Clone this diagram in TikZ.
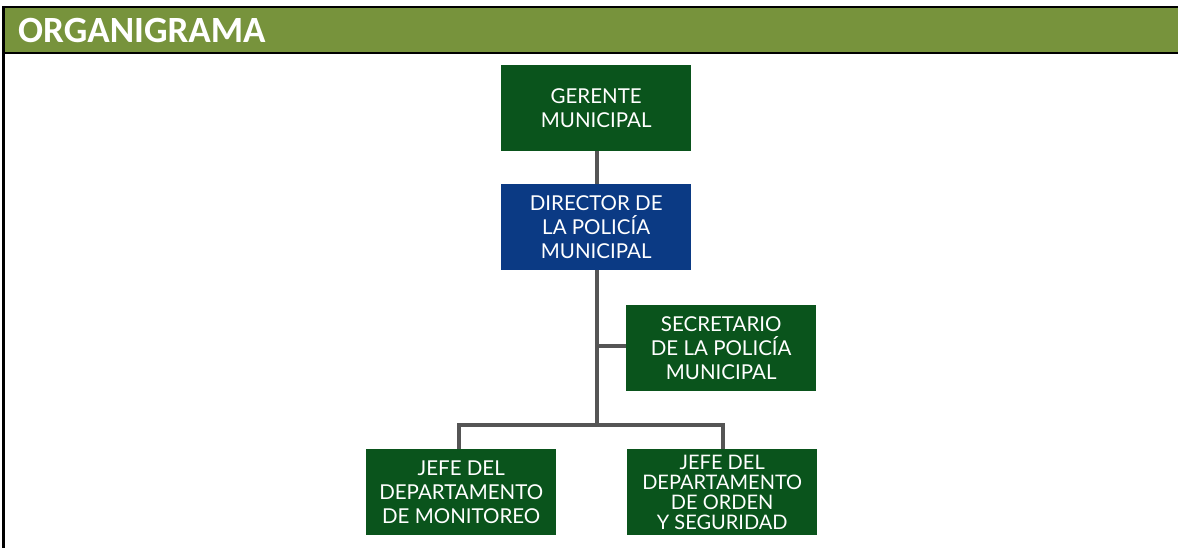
\documentclass[tikz,border=0pt]{standalone}
\usepackage{fontspec}
\setmainfont{Lato}
\newfontfamily\headfont{Carlito}
\definecolor{hdrgreen}{HTML}{77933C}
\definecolor{boxgreen}{HTML}{0A541C}
\definecolor{boxblue}{HTML}{0B3A84}
\definecolor{linegray}{HTML}{555555}
\begin{document}
\begin{tikzpicture}[x=1pt,y=-1pt,
  orgbox/.style={rectangle, draw=none, fill=boxgreen, text=white, minimum width=190pt, minimum height=86pt, align=center, font=\fontsize{20.5}{24}\selectfont, anchor=north west, inner sep=0pt},
  conn/.style={draw=linegray, line width=3.5pt}]
\useasboundingbox (0,0) rectangle (1178,548);
\fill[white] (0,0) rectangle (1178,548);
% header
\fill[hdrgreen] (3,7) rectangle (1178,53.5);
\draw[line width=2pt] (3,7) -- (1178,7);
\draw[line width=2pt] (3,53.5) -- (1178,53.5);
\draw[line width=3pt] (3,6) -- (3,548);
\node[anchor=base west, text=white, font=\headfont\bfseries\fontsize{37}{44}\selectfont, inner sep=0pt] (title) at (18,43) {ORGANIGRAMA};
% boxes
\node[orgbox] (ger) at (501,65) {GERENTE\\MUNICIPAL};
\node[orgbox, fill=boxblue] (dir) at (501,184) {DIRECTOR DE\\LA POLICÍA\\MUNICIPAL};
\node[orgbox] (sec) at (626,305) {SECRETARIO\\DE LA POLICÍA\\MUNICIPAL};
\node[orgbox] (mon) at (366,449) {JEFE DEL\\DEPARTAMENTO\\DE MONITOREO};
\node[orgbox, font=\fontsize{20}{20}\selectfont] (ord) at (627,449) {JEFE DEL\\DEPARTAMENTO\\DE ORDEN\\Y SEGURIDAD};
% connectors
\coordinate (junc) at (597,425);
\coordinate (secj) at (597,346);
\draw[conn] (ger.south -| 597,0) -- (dir.north -| 597,0);
\draw[conn] (dir.south -| 597,0) -- (junc);
\draw[conn] (secj) -- (sec.west |- secj);
\draw[conn] (mon.north -| 459,0) -- (459,425) -- (723,425) -- (ord.north -| 723,0);
\end{tikzpicture}
\end{document}
